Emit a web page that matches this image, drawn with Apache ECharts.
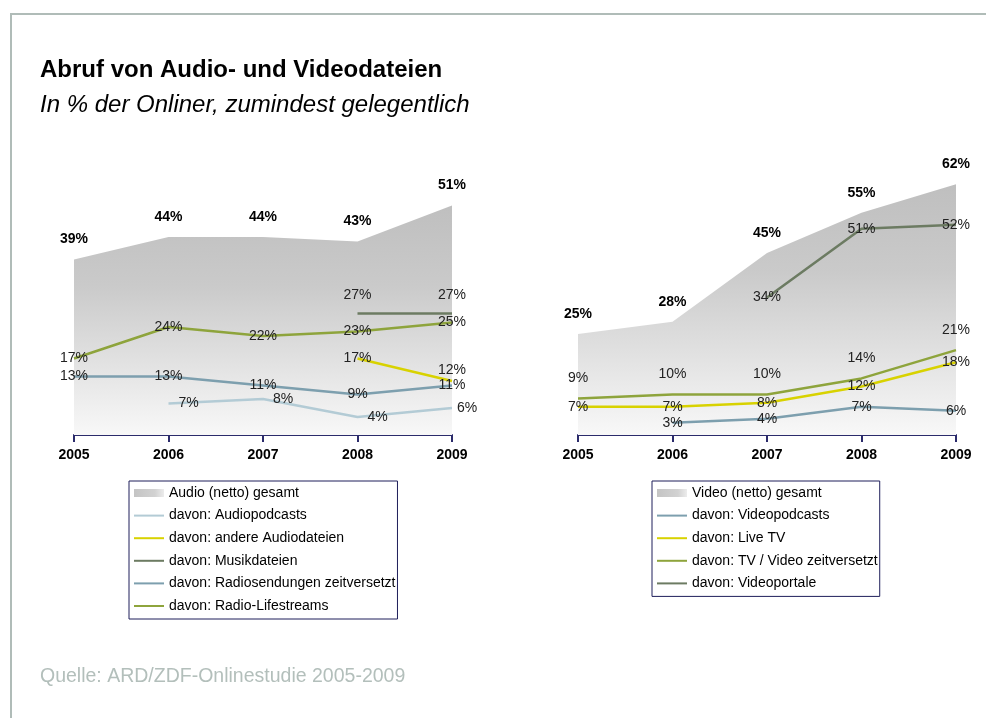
<!DOCTYPE html>
<html>
<head>
<meta charset="utf-8">
<script src="https://cdn.jsdelivr.net/npm/echarts@6/dist/echarts.min.js"></script>
<style>
  html, body { margin: 0; padding: 0; background: #ffffff; }
  #chart { width: 986px; height: 718px; }
</style>
</head>
<body>
<div id="chart"></div>
<script>
// Survey years on both x axes
const years = ['2005', '2006', '2007', '2008', '2009'];

// Audio panel (% of online users)
const audioTotal        = [39, 44, 44, 43, 51];
const audioPodcasts     = [null, 7, 8, 4, 6];
const audioOtherFiles   = [null, null, null, 17, 12];
const audioMusicFiles   = [null, null, null, 27, 27];
const audioRadioShifted = [13, 13, 11, 9, 11];
const audioLivestreams  = [17, 24, 22, 23, 25];

// Video panel (% of online users)
const videoTotal        = [25, 28, 45, 55, 62];
const videoPodcasts     = [null, 3, 4, 7, 6];
const videoLiveTV       = [7, 7, 8, 12, 18];
const videoShifted      = [9, 10, 10, 14, 21];
const videoPortals      = [null, null, 34, 51, 52];

const FONT = '"Liberation Sans", Arial, Helvetica, sans-serif';
const C_LIGHTBLUE = '#b3cbd5';
const C_YELLOW    = '#d8d200';
const C_DARKGREEN = '#6c7b62';
const C_BLUEGRAY  = '#7d9fae';
const C_OLIVE     = '#8ea43c';
const C_AXIS      = '#2b2b6b';

const chart = echarts.init(document.getElementById('chart'), null, { renderer: 'canvas' });

// label placement helpers
const C  = { pos: 'inside', dist: 0 };
const T  = (d) => ({ pos: 'top', dist: d });
const R  = (d) => ({ pos: 'right', dist: d });

function pointData(values, place) {
  return values.map((v, i) => {
    if (v == null) return '-';
    const p = Array.isArray(place) ? place[i] : place;
    return { value: v, label: { position: p.pos, distance: p.dist } };
  });
}

function areaSeries(name, values, axis) {
  return {
    name: name,
    type: 'line',
    xAxisIndex: axis,
    yAxisIndex: axis,
    data: pointData(values, T(13)),
    symbol: 'circle',
    symbolSize: 0,
    lineStyle: { width: 0 },
    itemStyle: { color: '#c0c0c0' },
    areaStyle: {
      opacity: 1,
      color: new echarts.graphic.LinearGradient(0, 0, 0, 1, [
        { offset: 0, color: '#bfbfbf' },
        { offset: 0.35, color: '#cacaca' },
        { offset: 1, color: '#f8f8f8' }
      ])
    },
    label: {
      show: true,
      formatter: '{c}%',
      fontFamily: FONT,
      fontSize: 14,
      fontWeight: 'bold',
      color: '#000'
    },
    emphasis: { disabled: true },
    silent: true,
    z: 1
  };
}

function lineSeries(name, values, color, axis, place) {
  return {
    name: name,
    type: 'line',
    xAxisIndex: axis,
    yAxisIndex: axis,
    data: pointData(values, place),
    symbol: 'circle',
    symbolSize: 0,
    connectNulls: false,
    lineStyle: { width: 2.5, color: color },
    itemStyle: { color: color },
    label: {
      show: true,
      formatter: '{c}%',
      fontFamily: FONT,
      fontSize: 14,
      color: '#222'
    },
    emphasis: { disabled: true },
    silent: true,
    z: 3
  };
}

const LINE_ICON = 'path://M0,0M0,3h30v2h-30zM0,8';
const AREA_SWATCH = new echarts.graphic.LinearGradient(0, 0, 1, 0, [
  { offset: 0, color: '#c4c4c4' },
  { offset: 0.7, color: '#d2d2d2' },
  { offset: 1, color: '#ececec' }
]);

function legendBlock(left, items) {
  return {
    show: true,
    orient: 'vertical',
    left: left,
    top: 481,
    padding: [4, 2, 5, 5],
    itemWidth: 30,
    itemHeight: 8,
    itemGap: 6.6,
    borderColor: '#1e1e5a',
    borderWidth: 1,
    backgroundColor: '#fff',
    selectedMode: false,
    textStyle: { fontFamily: FONT, fontSize: 14, color: '#000', lineHeight: 16 },
    data: items.map(([name, color]) => color === null
      ? { name: name, icon: 'rect', itemStyle: { color: AREA_SWATCH, borderWidth: 0 } }
      : { name: name, icon: LINE_ICON, itemStyle: { color: color, borderWidth: 0 } })
  };
}

function xAxisFor(gridIndex) {
  return {
    type: 'category',
    gridIndex: gridIndex,
    data: years,
    boundaryGap: false,
    axisLine: { show: true, lineStyle: { color: C_AXIS, width: 2 } },
    axisTick: { show: true, length: 7, lineStyle: { color: C_AXIS, width: 2 } },
    axisLabel: { fontFamily: FONT, fontSize: 14, fontWeight: 'bold', color: '#000', margin: 13 },
    splitLine: { show: false }
  };
}

function yAxisFor(gridIndex, max) {
  return {
    type: 'value',
    gridIndex: gridIndex,
    min: 0,
    max: max,
    show: false,
    splitLine: { show: false }
  };
}

const option = {
  animation: false,
  backgroundColor: '#ffffff',
  grid: [
    { left: 74, top: 165, width: 378, height: 270, outerBoundsMode: 'none' },
    { left: 578, top: 152, width: 378, height: 283, outerBoundsMode: 'none' }
  ],
  xAxis: [xAxisFor(0), xAxisFor(1)],
  yAxis: [yAxisFor(0, 60), yAxisFor(1, 70)],
  legend: [
    legendBlock(129, [
      ['Audio (netto) gesamt', null],
      ['davon: Audiopodcasts', C_LIGHTBLUE],
      ['davon: andere Audiodateien', C_YELLOW],
      ['davon: Musikdateien', C_DARKGREEN],
      ['davon: Radiosendungen zeitversetzt', C_BLUEGRAY],
      ['davon: Radio-Lifestreams', C_OLIVE]
    ]),
    legendBlock(652, [
      ['Video (netto) gesamt', null],
      ['davon: Videopodcasts', C_BLUEGRAY],
      ['davon: Live TV', C_YELLOW],
      ['davon: TV / Video zeitversetzt', C_OLIVE],
      ['davon: Videoportale', C_DARKGREEN]
    ])
  ],
  series: [
    areaSeries('Audio (netto) gesamt', audioTotal, 0),
    lineSeries('davon: Audiopodcasts', audioPodcasts, C_LIGHTBLUE, 0, [C, R(10), R(10), R(10), R(5)]),
    lineSeries('davon: andere Audiodateien', audioOtherFiles, C_YELLOW, 0, [C, C, C, C, T(4)]),
    lineSeries('davon: Musikdateien', audioMusicFiles, C_DARKGREEN, 0, T(11)),
    lineSeries('davon: Radiosendungen zeitversetzt', audioRadioShifted, C_BLUEGRAY, 0, C),
    lineSeries('davon: Radio-Lifestreams', audioLivestreams, C_OLIVE, 0, C),

    areaSeries('Video (netto) gesamt', videoTotal, 1),
    lineSeries('davon: Videopodcasts', videoPodcasts, C_BLUEGRAY, 1, C),
    lineSeries('davon: Live TV', videoLiveTV, C_YELLOW, 1, C),
    lineSeries('davon: TV / Video zeitversetzt', videoShifted, C_OLIVE, 1, T(13)),
    lineSeries('davon: Videoportale', videoPortals, C_DARKGREEN, 1, C)
  ],
  graphic: [
    // page frame: top and left rules
    { type: 'line', silent: true, shape: { x1: 10, y1: 14, x2: 986, y2: 14 },
      style: { stroke: '#b0bcb8', lineWidth: 2 } },
    { type: 'line', silent: true, shape: { x1: 11, y1: 13, x2: 11, y2: 718 },
      style: { stroke: '#b0bcb8', lineWidth: 2 } },
    { type: 'text', left: 40, top: 58, silent: true,
      style: { text: 'Abruf von Audio- und Videodateien', fontFamily: FONT, fontSize: 24,
               fontWeight: 'bold', fill: '#000' } },
    { type: 'text', left: 40, top: 93, silent: true,
      style: { text: 'In % der Onliner, zumindest gelegentlich', fontFamily: FONT, fontSize: 24,
               fontStyle: 'italic', fill: '#000' } },
    { type: 'text', left: 40, top: 667, silent: true,
      style: { text: 'Quelle: ARD/ZDF-Onlinestudie 2005-2009', fontFamily: FONT, fontSize: 19.5,
               fill: '#b3bfbb' } }
  ]
};

chart.setOption(option);
</script>
</body>
</html>
